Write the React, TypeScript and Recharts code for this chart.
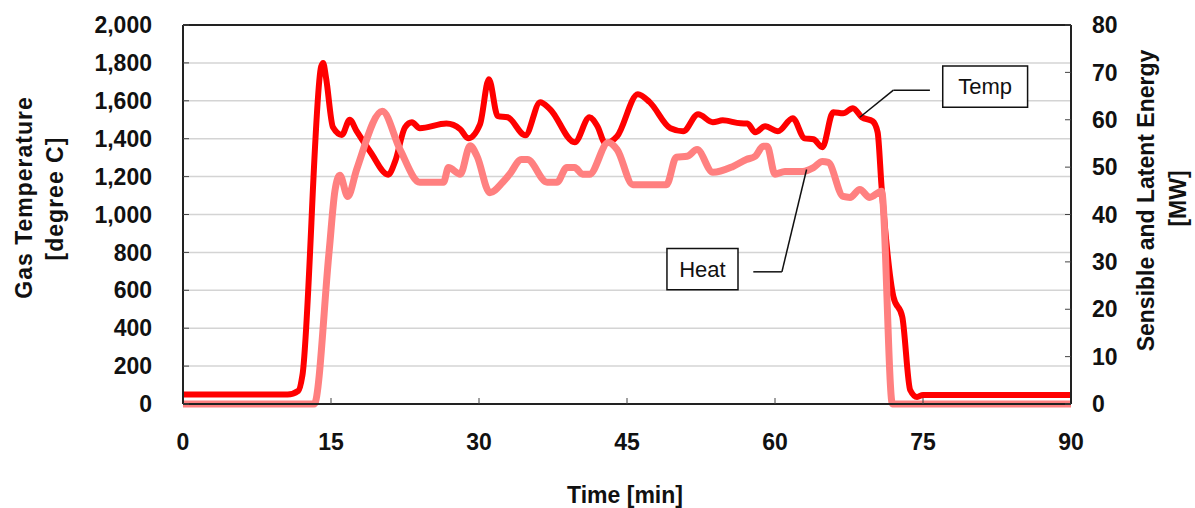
import {
  LineChart,
  Line,
  XAxis,
  YAxis,
  CartesianGrid,
  ReferenceLine,
  ReferenceArea,
  Label,
} from "recharts";

const FONT = "'Liberation Sans', Arial, sans-serif";

// gas temperature [degree C] against time [min]
const tempTime = [
  0, 10.6, 11.7, 12.1, 14.0, 14.2, 14.5, 15.2, 16.1, 16.9, 17.6, 19.0, 20.8,
  21.5, 22.5, 23.2, 24.0, 26.7, 28.1, 28.9, 30.1, 31.0, 31.9, 32.9, 34.7, 36.2,
  37.2, 39.7, 41.2, 42.0, 42.8, 44.0, 46.1, 47.3, 49.4, 50.7, 52.2, 53.7, 54.7,
  56.5, 57.2, 58.0, 59.0, 60.3, 61.8, 63.0, 63.9, 64.8, 65.9, 66.9, 67.9, 68.8,
  69.9, 70.4, 70.8, 72.0, 72.9, 73.7, 74.4, 75.0, 90,
];
const tempValue = [
  50, 50, 70, 150, 1780, 1800, 1720, 1460, 1420, 1500, 1440, 1330, 1210, 1280,
  1460, 1487, 1455, 1480, 1450, 1402, 1476, 1714, 1519, 1513, 1418, 1593, 1556,
  1381, 1513, 1466, 1376, 1413, 1635, 1593, 1455, 1439, 1529, 1487, 1497, 1481,
  1480, 1434, 1466, 1439, 1508, 1402, 1397, 1355, 1540, 1534, 1561, 1513, 1492,
  1434, 1148, 566, 460, 74, 37, 48, 48,
];

// sensible and latent energy [MW] against time [min]
const heatTime = [
  0, 13.3, 14.8, 15.4, 15.9, 16.7, 17.6, 20.2, 22.0, 24.0, 26.4, 26.9, 28.1,
  29.1, 29.8, 31.1, 32.4, 33.1, 34.3, 34.9, 36.9, 37.9, 38.9, 39.7, 40.5, 41.2,
  43.1, 44.0, 45.6, 49.0, 50.0, 51.1, 52.1, 53.7, 55.7, 57.1, 58.0, 58.8, 59.2,
  60.0, 61.0, 62.8, 63.9, 64.8, 65.4, 66.9, 67.6, 68.6, 69.6, 70.8, 71.9, 90,
];
const heatValue = [
  0, 0, 32, 45, 48.3, 43.8, 49.5, 61.8, 53.7, 46.8, 46.8, 49.9, 48.5, 54.5,
  52.3, 44.6, 46.8, 48.5, 51.6, 51.6, 46.8, 46.8, 49.9, 49.9, 48.5, 48.5, 55.2,
  53.7, 46.3, 46.3, 52.1, 52.3, 53.7, 48.9, 50.1, 51.6, 52.3, 54.4, 54.4, 48.5,
  49.1, 49.1, 49.9, 51.2, 51.0, 43.8, 43.6, 45.3, 43.6, 44.9, 0, 0,
];

const xTicks = [0, 15, 30, 45, 60, 75, 90];
const leftTicks = [0, 200, 400, 600, 800, 1000, 1200, 1400, 1600, 1800, 2000];
const rightTicks = [0, 10, 20, 30, 40, 50, 60, 70, 80];

const tempData = tempTime.map((t, i) => ({ t, temp: tempValue[i] }));
const heatData = heatTime.map((t, i) => ({ t, heat: heatValue[i] }));

const tickStyle = { fill: "#111", fontSize: 23, fontWeight: 700, fontFamily: FONT };
const titleStyle = { fill: "#111", fontSize: 23, fontWeight: 700, fontFamily: FONT };

const LeftTitle = ({ viewBox }: any) => {
  const cy = viewBox.y + viewBox.height / 2 - 17;
  return (
    <g>
      <text transform={`translate(24,${cy}) rotate(-90)`} textAnchor="middle" dominantBaseline="central" letterSpacing={1} {...titleStyle}>
        Gas Temperature
      </text>
      <text transform={`translate(55,${cy + 1}) rotate(-90)`} textAnchor="middle" dominantBaseline="central" letterSpacing={1} {...titleStyle}>
        [degree C]
      </text>
    </g>
  );
};

const RightTitle = ({ viewBox }: any) => {
  const cy = viewBox.y + viewBox.height / 2 - 14;
  const x0 = viewBox.x;
  return (
    <g>
      <text transform={`translate(${x0 + 75},${cy}) rotate(-90)`} textAnchor="middle" dominantBaseline="central" {...titleStyle}>
        Sensible and Latent Energy
      </text>
      <text transform={`translate(${x0 + 107},${cy - 2}) rotate(-90)`} textAnchor="middle" dominantBaseline="central" {...titleStyle}>
        [MW]
      </text>
    </g>
  );
};

const BottomTitle = ({ viewBox }: any) => (
  <text x={viewBox.x + viewBox.width / 2 - 2} y={503} textAnchor="middle" {...titleStyle}>
    Time [min]
  </text>
);

export default function App() {
  return (
    <div style={{ position: "absolute", left: 0, top: 0, width: 1195, height: 508, background: "#fff" }}>
      <LineChart width={1195} height={508} margin={{ top: 25, right: 0, bottom: 0, left: 0 }}>
        <CartesianGrid yAxisId="left" vertical={false} stroke="#d4d4d4" strokeWidth={1.5} />
        <XAxis
          dataKey="t"
          type="number"
          domain={[0, 90]}
          ticks={xTicks}
          allowDataOverflow
          height={104}
          tickSize={-6}
          tickMargin={36}
          tick={tickStyle}
          axisLine={{ stroke: "#222", strokeWidth: 2 }}
          tickLine={{ stroke: "#444", strokeWidth: 1 }}
        >
          <Label content={BottomTitle} />
        </XAxis>
        <YAxis
          yAxisId="left"
          domain={[0, 2000]}
          ticks={leftTicks}
          width={183}
          tickSize={-6}
          tickMargin={37}
          tick={tickStyle}
          tickFormatter={(v: number) => v.toLocaleString("en-US")}
          axisLine={{ stroke: "#222", strokeWidth: 2 }}
          tickLine={{ stroke: "#444", strokeWidth: 1 }}
        >
          <Label content={LeftTitle} />
        </YAxis>
        <YAxis
          yAxisId="right"
          orientation="right"
          domain={[0, 80]}
          ticks={rightTicks}
          width={124}
          tickSize={-6}
          tickMargin={27}
          tick={tickStyle}
          axisLine={{ stroke: "#222", strokeWidth: 2 }}
          tickLine={{ stroke: "#444", strokeWidth: 1 }}
        >
          <Label content={RightTitle} />
        </YAxis>
        <ReferenceLine yAxisId="left" y={2000} stroke="#222" strokeWidth={2} />
        <Line
          yAxisId="left"
          data={tempData}
          dataKey="temp"
          type="monotone"
          stroke="#ff0000"
          strokeWidth={6}
          dot={false}
          isAnimationActive={false}
        />
        <Line
          yAxisId="right"
          data={heatData}
          dataKey="heat"
          type="monotone"
          stroke="#ff8080"
          strokeWidth={7}
          dot={false}
          isAnimationActive={false}
        />
        <ReferenceLine
          yAxisId="left"
          segment={[{ x: 68.6, y: 1513 }, { x: 72.0, y: 1656 }]}
          stroke="#111"
          strokeWidth={1.5}
        />
        <ReferenceLine
          yAxisId="left"
          segment={[{ x: 72.0, y: 1656 }, { x: 75.7, y: 1656 }]}
          stroke="#111"
          strokeWidth={1.5}
        />
        <ReferenceArea
          yAxisId="left"
          x1={77.0}
          x2={85.6}
          y1={1566}
          y2={1783}
          fill="#fff"
          fillOpacity={1}
          stroke="#111"
          strokeWidth={1.5}
          label={{ value: "Temp", position: "center", fontSize: 22, fill: "#111", fontFamily: FONT }}
        />
        <ReferenceLine
          yAxisId="right"
          segment={[{ x: 63.2, y: 49.5 }, { x: 60.7, y: 27.9 }]}
          stroke="#111"
          strokeWidth={1.5}
        />
        <ReferenceLine
          yAxisId="right"
          segment={[{ x: 60.7, y: 27.9 }, { x: 57.8, y: 27.9 }]}
          stroke="#111"
          strokeWidth={1.5}
        />
        <ReferenceArea
          yAxisId="right"
          x1={49.05}
          x2={56.25}
          y1={24.1}
          y2={32.8}
          fill="#fff"
          fillOpacity={1}
          stroke="#111"
          strokeWidth={1.5}
          label={{ value: "Heat", position: "center", fontSize: 22, fill: "#111", fontFamily: FONT }}
        />
      </LineChart>
    </div>
  );
}
